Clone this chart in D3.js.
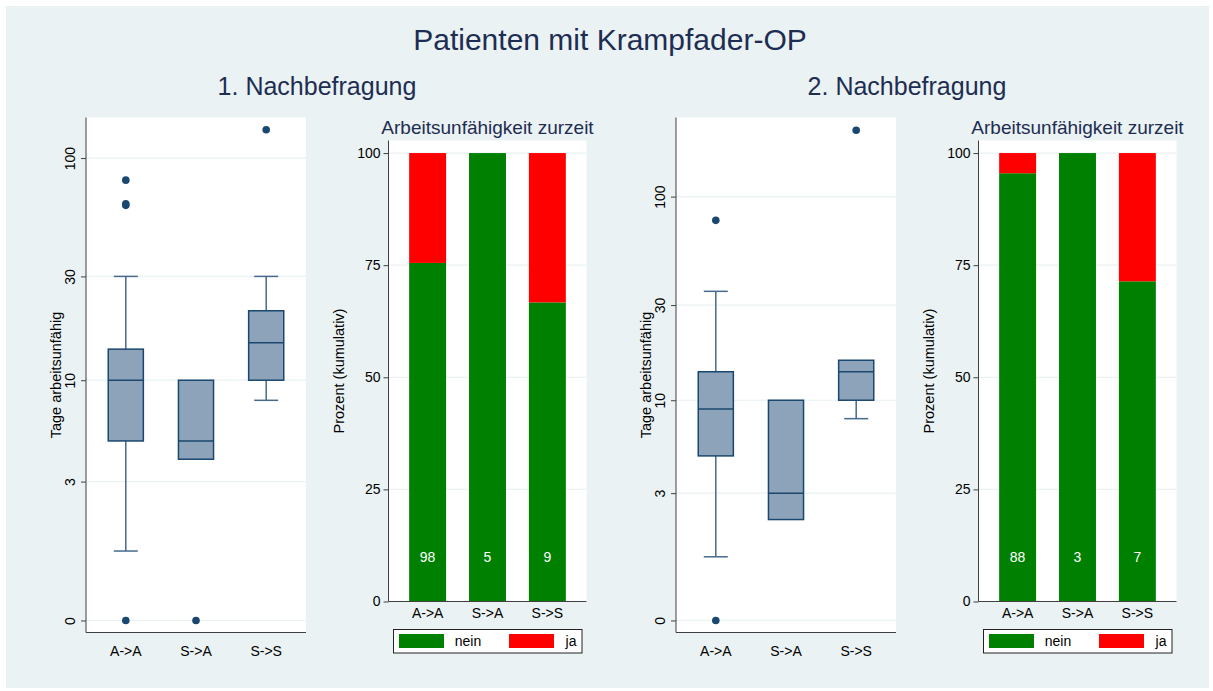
<!DOCTYPE html>
<html>
<head>
<meta charset="utf-8">
<script src="https://cdn.jsdelivr.net/npm/d3@7"></script>
<style>
  body { margin: 0; background: #fff; }
  text { font-family: "Liberation Sans", Arial, Helvetica, sans-serif; }
</style>
</head>
<body>
<svg id="chart" width="1213" height="691"></svg>
<script>
// ---- data ----
var categories = ["A->A", "S->A", "S->S"];
var mainTitle = "Patienten mit Krampfader-OP";
var surveyTitles = ["1. Nachbefragung", "2. Nachbefragung"];
var barTitle = "Arbeitsunfähigkeit zurzeit";
var boxTicks = [0, 3, 10, 30, 100];
var barTicks = [0, 25, 50, 75, 100];
var legendLabels = ["nein", "ja"];

// Tage arbeitsunfähig (Boxplot), 1. Nachbefragung
var q1_1 = [5, 4, 10];
var median_1 = [10, 5, 15];
var q3_1 = [14, 10, 21];
var whiskLo_1 = [1, 4, 8];
var whiskHi_1 = [30, 10, 30];
var outliers_1 = [[0, 62, 63, 80], [0], [133]];

// Tage arbeitsunfähig (Boxplot), 2. Nachbefragung
var q1_2 = [5, 2, 10];
var median_2 = [9, 3, 14];
var q3_2 = [14, 10, 16];
var whiskLo_2 = [1, 2, 8];
var whiskHi_2 = [35, 10, 16];
var outliers_2 = [[0, 77], [], [207]];

// Arbeitsunfähigkeit zurzeit, Prozent kumulativ
var nein_1 = [75.5, 100, 66.7];
var ja_1 = [24.5, 0, 33.3];
var n_1 = [98, 5, 9];
var nein_2 = [95.5, 100, 71.4];
var ja_2 = [4.5, 0, 28.6];
var n_2 = [88, 3, 7];

// ---- style ----
var bg = "#EAF2F3", navy = "#1A476F", boxFill = "#8DA3B9", whiskCol = "#46698C";
var titleCol = "#1E2D52", axisCol = "#404040";
var colNein = "#008000", colJa = "#FF0000";
var tickFont = 14, labelFont = 14.5;

var svg = d3.select("#chart");
svg.append("rect").attr("x", 6).attr("y", 6).attr("width", 1203).attr("height", 682).attr("fill", bg);

svg.append("text").attr("x", 610).attr("y", 50).attr("text-anchor", "middle")
  .attr("font-size", 30).attr("fill", titleCol).text(mainTitle);

var colOffset = 590;

function drawBoxPanel(dx, q1, med, q3, lo, hi, outl, yMin, yMax) {
  var left = 86 + dx, right = 306 + dx, top = 117.5, bottom = 632.5;
  var g = svg.append("g");
  g.append("rect").attr("x", left).attr("y", top).attr("width", right - left).attr("height", bottom - top).attr("fill", "#fff");

  // log(Tage + 1) scale
  var y = d3.scaleLog().domain([yMin, yMax]).range([bottom, top]);
  var yv = function(v) { return y(v + 1); };
  var x = d3.scaleBand().domain(categories).range([left, right]).paddingInner(0.5).paddingOuter(0.317);

  g.selectAll(".grid").data(boxTicks).enter().append("line")
    .attr("x1", left).attr("x2", right)
    .attr("y1", function(d) { return yv(d); }).attr("y2", function(d) { return yv(d); })
    .attr("stroke", bg).attr("stroke-width", 1.2);

  var rows = categories.map(function(c, i) {
    return { cat: c, q1: q1[i], med: med[i], q3: q3[i], lo: lo[i], hi: hi[i], out: outl[i] };
  });
  var bw = x.bandwidth();
  var cap = 12;
  var cx = function(d) { return x(d.cat) + bw / 2; };

  var b = g.selectAll(".box").data(rows).enter().append("g");
  // whiskers
  b.append("line").attr("x1", cx).attr("x2", cx)
    .attr("y1", function(d) { return yv(d.q3); }).attr("y2", function(d) { return yv(d.hi); })
    .attr("stroke", whiskCol).attr("stroke-width", 1.5);
  b.append("line").attr("x1", cx).attr("x2", cx)
    .attr("y1", function(d) { return yv(d.q1); }).attr("y2", function(d) { return yv(d.lo); })
    .attr("stroke", whiskCol).attr("stroke-width", 1.5);
  b.filter(function(d) { return d.hi > d.q3; }).append("line")
    .attr("x1", function(d) { return cx(d) - cap; }).attr("x2", function(d) { return cx(d) + cap; })
    .attr("y1", function(d) { return yv(d.hi); }).attr("y2", function(d) { return yv(d.hi); })
    .attr("stroke", whiskCol).attr("stroke-width", 1.5);
  b.filter(function(d) { return d.lo < d.q1; }).append("line")
    .attr("x1", function(d) { return cx(d) - cap; }).attr("x2", function(d) { return cx(d) + cap; })
    .attr("y1", function(d) { return yv(d.lo); }).attr("y2", function(d) { return yv(d.lo); })
    .attr("stroke", whiskCol).attr("stroke-width", 1.5);
  // box
  b.append("rect").attr("x", function(d) { return x(d.cat); }).attr("width", bw)
    .attr("y", function(d) { return yv(d.q3); })
    .attr("height", function(d) { return yv(d.q1) - yv(d.q3); })
    .attr("fill", boxFill).attr("stroke", navy).attr("stroke-width", 1.5);
  b.append("line").attr("x1", function(d) { return x(d.cat); }).attr("x2", function(d) { return x(d.cat) + bw; })
    .attr("y1", function(d) { return yv(d.med); }).attr("y2", function(d) { return yv(d.med); })
    .attr("stroke", navy).attr("stroke-width", 1.5);
  // outliers
  b.each(function(d) {
    d3.select(this).selectAll("circle").data(d.out).enter().append("circle")
      .attr("cx", cx(d)).attr("cy", function(v) { return yv(v); })
      .attr("r", 3.8).attr("fill", navy);
  });

  // axes
  var ya = g.append("g").attr("transform", "translate(" + left + ",0)")
    .call(d3.axisLeft(y).tickValues(boxTicks.map(function(t) { return t + 1; }))
      .tickFormat(function(t) { return Math.round(t - 1); }).tickSize(5).tickSizeOuter(0));
  ya.select(".domain").attr("stroke", axisCol).attr("d", "M0," + bottom + "V" + top);
  ya.selectAll("line").attr("stroke", axisCol);
  ya.selectAll("text").attr("transform", "rotate(-90)").attr("x", 0).attr("y", -11).attr("dy", 0)
    .style("text-anchor", "middle").attr("font-size", tickFont).attr("fill", "#000").attr("font-family", null);

  var xa = g.append("g").attr("transform", "translate(0," + bottom + ")")
    .call(d3.axisBottom(x).tickSize(0).tickPadding(14).tickSizeOuter(0));
  xa.select(".domain").attr("stroke", axisCol).attr("d", "M" + left + ",0H" + right);
  xa.selectAll("text").attr("font-size", tickFont).attr("fill", "#000").attr("font-family", null);

  g.append("text").attr("transform", "translate(" + (61 + dx) + "," + ((top + bottom) / 2) + ") rotate(-90)")
    .attr("text-anchor", "middle").attr("font-size", labelFont).attr("fill", "#000")
    .text("Tage arbeitsunfähig");
}

function drawBarPanel(dx, nein, ja, n) {
  var left = 388.5 + dx, right = 586.5 + dx, top = 140.5, bottom = 601.5;
  var g = svg.append("g");
  g.append("rect").attr("x", left).attr("y", top).attr("width", right - left).attr("height", bottom - top).attr("fill", "#fff");

  var y = d3.scaleLinear().domain([0, 102.8]).range([bottom, top]);
  var x = d3.scaleBand().domain(categories).range([left, right]).paddingInner(0.383).paddingOuter(0.345);

  g.selectAll(".grid").data(barTicks.slice(1)).enter().append("line")
    .attr("x1", left).attr("x2", right)
    .attr("y1", function(d) { return y(d); }).attr("y2", function(d) { return y(d); })
    .attr("stroke", bg).attr("stroke-width", 1.2);

  var rows = categories.map(function(c, i) { return { cat: c, nein: nein[i], ja: ja[i], n: n[i] }; });
  g.selectAll(".nein").data(rows).enter().append("rect")
    .attr("x", function(d) { return x(d.cat); }).attr("width", x.bandwidth())
    .attr("y", function(d) { return y(d.nein); }).attr("height", function(d) { return y(0) - y(d.nein); })
    .attr("fill", colNein);
  g.selectAll(".ja").data(rows).enter().append("rect")
    .attr("x", function(d) { return x(d.cat); }).attr("width", x.bandwidth())
    .attr("y", function(d) { return y(d.nein + d.ja); }).attr("height", function(d) { return y(d.nein) - y(d.nein + d.ja); })
    .attr("fill", colJa);
  g.selectAll(".cnt").data(rows).enter().append("text")
    .attr("x", function(d) { return x(d.cat) + x.bandwidth() / 2; }).attr("y", y(10)).attr("dy", "0.35em")
    .attr("text-anchor", "middle").attr("font-size", tickFont).attr("fill", "#fff")
    .text(function(d) { return d.n; });

  var ya = g.append("g").attr("transform", "translate(" + left + ",0)")
    .call(d3.axisLeft(y).tickValues(barTicks).tickSize(5).tickSizeOuter(0));
  ya.select(".domain").attr("stroke", axisCol).attr("d", "M0," + bottom + "V" + top);
  ya.selectAll("line").attr("stroke", axisCol);
  ya.selectAll("text").attr("font-size", tickFont).attr("fill", "#000").attr("font-family", null);

  var xa = g.append("g").attr("transform", "translate(0," + bottom + ")")
    .call(d3.axisBottom(x).tickSize(0).tickPadding(7).tickSizeOuter(0));
  xa.select(".domain").attr("stroke", axisCol).attr("d", "M" + left + ",0H" + right);
  xa.selectAll("text").attr("font-size", tickFont).attr("fill", "#000").attr("font-family", null);

  g.append("text").attr("transform", "translate(" + (344 + dx) + "," + ((top + bottom) / 2) + ") rotate(-90)")
    .attr("text-anchor", "middle").attr("font-size", labelFont).attr("fill", "#000").text("Prozent (kumulativ)");

  g.append("text").attr("x", (left + right) / 2).attr("y", 134).attr("text-anchor", "middle")
    .attr("font-size", 19).attr("fill", titleCol).text(barTitle);

  // legend
  var lg = g.append("g").attr("transform", "translate(" + (393.5 + dx) + ",629.5)");
  lg.append("rect").attr("width", 188.5).attr("height", 23.5).attr("fill", "#fff").attr("stroke", "#222").attr("stroke-width", 1);
  var colors = [colNein, colJa];
  var items = lg.selectAll(".item").data(legendLabels).enter().append("g")
    .attr("transform", function(d, i) { return "translate(" + (5.5 + i * 110) + ",4.5)"; });
  items.append("rect").attr("width", 45).attr("height", 14).attr("fill", function(d, i) { return colors[i]; });
  items.append("text").attr("x", function(d, i) { return i ? 62 : 69; }).attr("y", 7).attr("dy", "0.35em")
    .attr("text-anchor", "middle").attr("font-size", tickFont).attr("fill", "#000").text(function(d) { return d; });
}

surveyTitles.forEach(function(t, i) {
  svg.append("text").attr("x", 317 + i * colOffset).attr("y", 95).attr("text-anchor", "middle")
    .attr("font-size", 25).attr("fill", titleCol).text(t);
});

drawBoxPanel(0, q1_1, median_1, q3_1, whiskLo_1, whiskHi_1, outliers_1, 0.887, 151.4);
drawBarPanel(0, nein_1, ja_1, n_1);
drawBoxPanel(colOffset, q1_2, median_2, q3_2, whiskLo_2, whiskHi_2, outliers_2, 0.877, 239);
drawBarPanel(colOffset, nein_2, ja_2, n_2);
</script>
</body>
</html>
